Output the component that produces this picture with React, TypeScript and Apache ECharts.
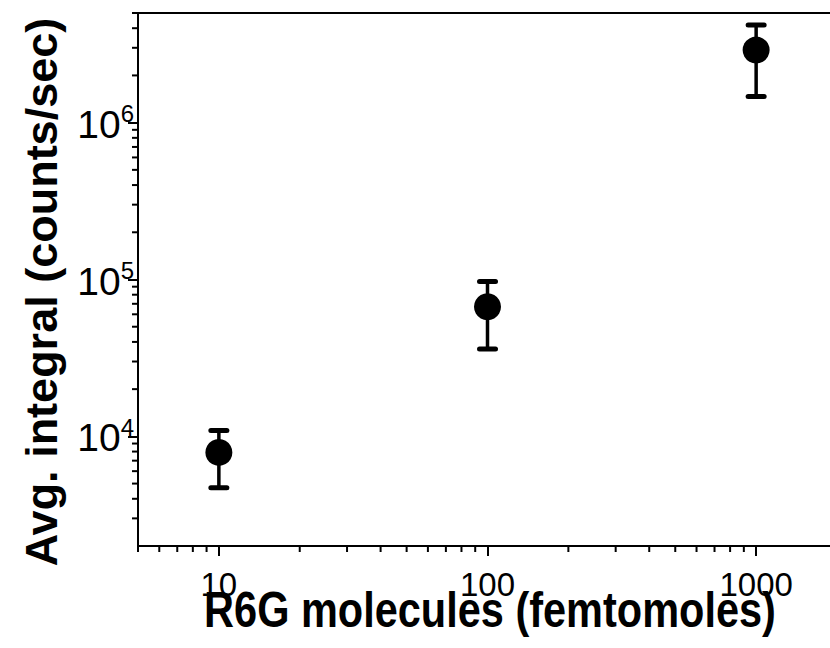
import React, { useEffect, useRef } from "react";
import * as echarts from "echarts";

const molecules = [10, 100, 1000];
const avgIntegral = [7900, 67000, 2900000];
const errLow = [4700, 36000, 1470000];
const errHigh = [10900, 97000, 4200000];

const X_MIN = 5;
const X_MAX = 2000;
const Y_MIN = 2000;
const Y_MAX = 5000000;

const xMinorTicks = [5, 6, 7, 8, 9, 20, 30, 40, 50, 60, 70, 80, 90, 200, 300, 400, 500, 600, 700, 800, 900];
const yMinorTicks = [3000, 4000, 5000, 6000, 7000, 8000, 9000, 20000, 30000, 40000, 50000, 60000, 70000, 80000, 90000, 200000, 300000, 400000, 500000, 600000, 700000, 800000, 900000, 2000000, 3000000, 4000000, 5000000];

const xTitle = "R6G molecules (femtomoles)";
const yTitle = "Avg. integral (counts/sec)";

export default function App() {
  const ref = useRef<HTMLDivElement>(null);
  useEffect(() => {
    if (!ref.current) return;
    const chart = echarts.init(ref.current, null, { renderer: "svg" });
    const sans = "Liberation Sans, Arial, sans-serif";
    chart.setOption({
      animation: false,
      grid: {
        left: 138,
        top: 13,
        right: 0,
        bottom: 102,
        show: true,
        borderColor: "#000",
        borderWidth: 2,
      },
      xAxis: {
        type: "log",
        logBase: 10,
        min: X_MIN,
        max: X_MAX,
        axisLine: { show: true, lineStyle: { color: "#000", width: 2 } },
        axisTick: { show: true, length: 10, lineStyle: { color: "#000", width: 2 } },
        splitLine: { show: false },
        axisLabel: {
          show: true,
          showMinLabel: false,
          showMaxLabel: false,
          color: "#000",
          fontFamily: sans,
          fontSize: 33,
          margin: 22,
          formatter: (v: number) => String(Math.round(v)),
        },
      },
      yAxis: {
        type: "log",
        logBase: 10,
        min: Y_MIN,
        max: Y_MAX,
        axisLine: { show: true, lineStyle: { color: "#000", width: 2 } },
        axisTick: { show: true, length: 10, lineStyle: { color: "#000", width: 2 } },
        splitLine: { show: false },
        axisLabel: {
          show: true,
          showMinLabel: false,
          showMaxLabel: false,
          color: "#000",
          margin: 4,
          formatter: (v: number) => `{b|10}{s|${Math.round(Math.log10(v))}}`,
          rich: {
            b: { fontFamily: sans, fontSize: 39, color: "#000", verticalAlign: "bottom" },
            s: { fontFamily: sans, fontSize: 24, color: "#000", verticalAlign: "bottom", padding: [0, 0, 18, 0] },
          },
        },
      },
      graphic: [
        {
          type: "text",
          x: 490,
          y: 610,
          scaleX: 0.83,
          style: {
            text: xTitle,
            fontFamily: sans,
            fontWeight: "bold",
            fontSize: 50,
            fill: "#000",
            align: "center",
            verticalAlign: "middle",
          },
        },
        {
          type: "text",
          x: 41,
          y: 292,
          rotation: Math.PI / 2,
          style: {
            text: yTitle,
            fontFamily: sans,
            fontWeight: "bold",
            fontSize: 45,
            fill: "#000",
            align: "center",
            verticalAlign: "middle",
          },
        },
      ],
      series: [
        {
          type: "custom",
          clip: false,
          silent: true,
          data: xMinorTicks.map((v) => [v, Y_MIN]),
          renderItem: (params: any, api: any) => {
            const p = api.coord([api.value(0), api.value(1)]);
            return {
              type: "line",
              shape: { x1: p[0], y1: p[1], x2: p[0], y2: p[1] + 6 },
              style: { stroke: "#000", lineWidth: 2 },
            };
          },
        },
        {
          type: "custom",
          clip: false,
          silent: true,
          data: yMinorTicks.map((v) => [X_MIN, v]),
          renderItem: (params: any, api: any) => {
            const p = api.coord([api.value(0), api.value(1)]);
            return {
              type: "line",
              shape: { x1: p[0] - 6, y1: p[1], x2: p[0], y2: p[1] },
              style: { stroke: "#000", lineWidth: 2 },
            };
          },
        },
        {
          type: "custom",
          clip: false,
          data: molecules.map((m, i) => [m, errLow[i], errHigh[i]]),
          encode: { x: 0, y: [1, 2] },
          renderItem: (params: any, api: any) => {
            const x = api.value(0);
            const top = api.coord([x, api.value(2)]);
            const bot = api.coord([x, api.value(1)]);
            const hw = 8;
            const st = { stroke: "#000", lineWidth: 3.5 };
            return {
              type: "group",
              children: [
                { type: "line", shape: { x1: top[0], y1: top[1], x2: bot[0], y2: bot[1] }, style: st },
                { type: "line", shape: { x1: top[0] - hw, y1: top[1], x2: top[0] + hw, y2: top[1] }, style: { ...st, lineWidth: 5, lineCap: "round" } },
                { type: "line", shape: { x1: bot[0] - hw, y1: bot[1], x2: bot[0] + hw, y2: bot[1] }, style: { ...st, lineWidth: 5, lineCap: "round" } },
              ],
            };
          },
        },
        {
          type: "scatter",
          data: molecules.map((m, i) => [m, avgIntegral[i]]),
          symbol: "circle",
          symbolSize: 27,
          itemStyle: { color: "#000", opacity: 1 },
          z: 5,
        },
      ],
    });
    return () => chart.dispose();
  }, []);
  return (
    <div style={{ position: "fixed", left: 0, top: 0, width: 830, height: 648, overflow: "hidden", background: "#fff" }}>
      <div ref={ref} style={{ width: 837, height: 648 }} />
    </div>
  );
}
